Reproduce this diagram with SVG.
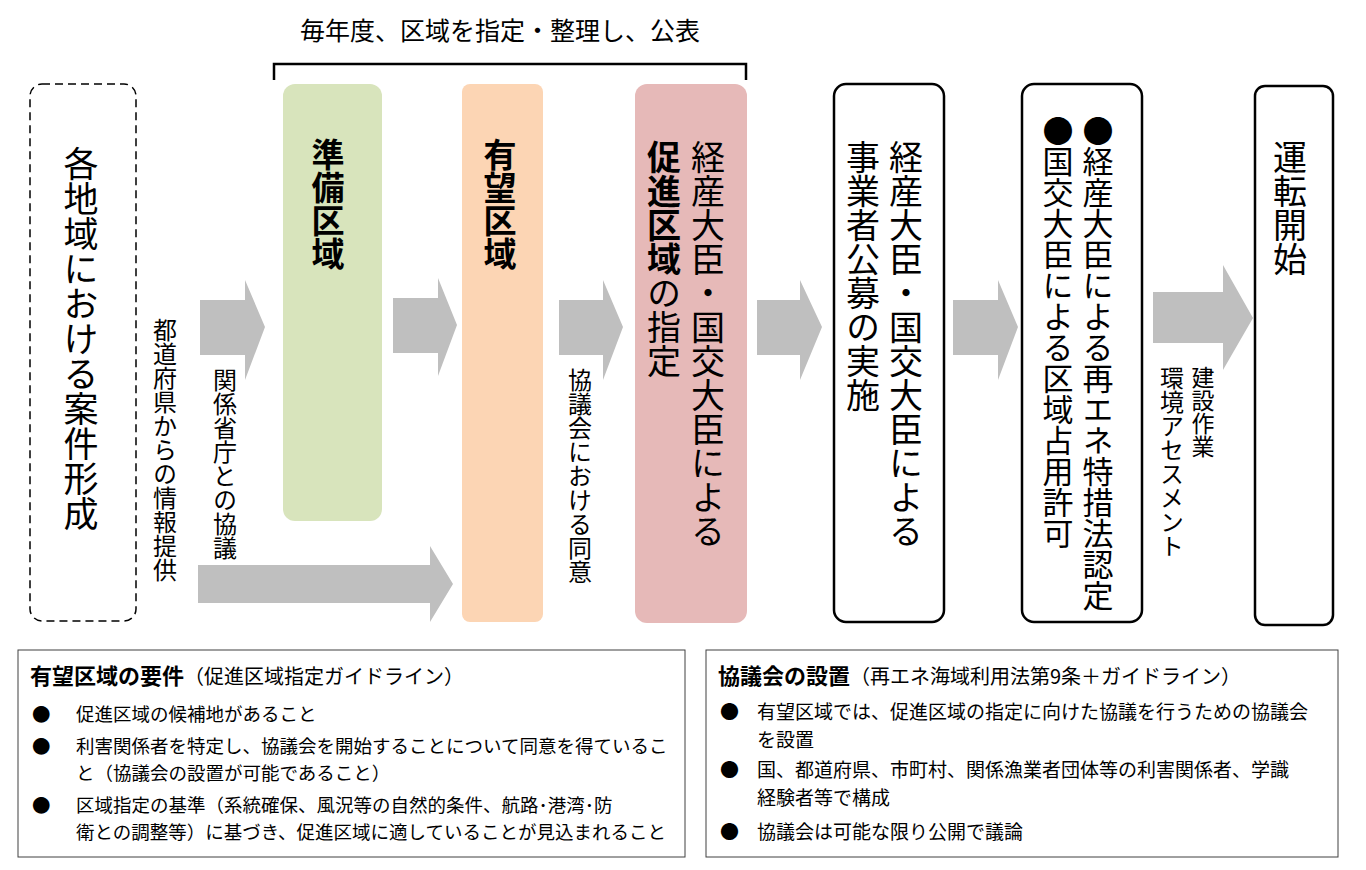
<svg xmlns="http://www.w3.org/2000/svg" width="1366" height="870" viewBox="0 0 1366 870">
<style>
text{font-family:"Noto Sans CJK JP","Liberation Sans",sans-serif;fill:#000}
.v{writing-mode:vertical-rl}
.b{font-weight:bold}
.arr{fill:#bfbfbf}
.box{fill:#fff;stroke:#000;stroke-width:2.5}
.pan{fill:#fff;stroke:#404040;stroke-width:1}
</style>
<rect width="1366" height="870" fill="#fff"/>
<g id="connectors">
<polygon class="arr" points="200,300 245,300 245,280 265,327 245,380 245,355 200,355"/>
<polygon class="arr" points="393,298 438,298 438,278 457,325 438,376 438,353 393,353"/>
<polygon class="arr" points="198,565 430,565 430,546 453,584 430,622 430,603 198,603"/>
<polygon class="arr" points="559,300 603,300 603,280 623,327 603,380 603,355 559,355"/>
<polygon class="arr" points="757,300 800,300 800,280 822,327 800,380 800,355 757,355"/>
<polygon class="arr" points="953,300 998,300 998,280 1018,327 998,380 998,355 953,355"/>
<polygon class="arr" points="1153,292 1223,292 1223,265 1253,318 1223,370 1223,343 1153,343"/>
<path d="M274,80 V64 H746 V80" fill="none" stroke="#000" stroke-width="2.5"/>
<text x="500" y="40" font-size="25" text-anchor="middle">毎年度、区域を指定・整理し、公表</text>
<text class="v" x="165" y="318" font-size="24">都道府県からの情報提供</text>
<text class="v" x="225" y="368" font-size="24">関係省庁との協議</text>
<text class="v" x="580" y="368" font-size="24">協議会における同意</text>
<text class="v" x="1203" y="366" font-size="23">建設作業</text>
<text class="v" x="1172" y="366" font-size="24">環境アセスメント</text>
</g>
<g id="n1">
<rect x="30" y="84" width="106" height="537" rx="12" fill="#fff" stroke="#000" stroke-width="1.5" stroke-dasharray="8,5"/>
<text class="v" x="81" y="146" font-size="35">各地域における案件形成</text>
</g>
<g id="n2">
<rect x="283" y="84" width="99" height="437" rx="12" fill="#d8e4bc"/>
<text class="v b" x="328" y="138" font-size="33">準備区域</text>
</g>
<g id="n3">
<rect x="462" y="84" width="81" height="538" rx="8" fill="#fcd5b4"/>
<text class="v b" x="500" y="138" font-size="33">有望区域</text>
</g>
<g id="n4">
<rect x="635" y="84" width="112" height="539" rx="12" fill="#e6b9b8"/>
<text class="v" x="708" y="140" font-size="34">経産大臣・国交大臣による</text>
<text class="v" x="664" y="140" font-size="34"><tspan class="b">促進区域</tspan>の指定</text>
</g>
<g id="n5">
<rect class="box" x="834" y="84" width="110" height="538" rx="12"/>
<text class="v" x="906" y="140" font-size="34">経産大臣・国交大臣による</text>
<text class="v" x="863" y="140" font-size="34">事業者公募の実施</text>
</g>
<g id="n6">
<rect class="box" x="1022" y="84" width="120" height="538" rx="12"/>
<text class="v" x="1098" y="115" font-size="31">●経産大臣による再エネ特措法認定</text>
<text class="v" x="1058" y="115" font-size="31">●国交大臣による区域占用許可</text>
</g>
<g id="n7">
<rect class="box" x="1255" y="86" width="78" height="539" rx="10"/>
<text class="v" x="1290" y="140" font-size="34">運転開始</text>
</g>
<g id="p1">
<rect class="pan" x="18" y="650" width="667" height="207"/>
<text x="30" y="684" font-size="22"><tspan class="b">有望区域の要件</tspan><tspan font-size="20">（促進区域指定ガイドライン）</tspan></text>
<g font-size="18.5">
<text x="32" y="721">●</text><text x="76" y="721">促進区域の候補地があること</text>
<text x="32" y="753">●</text><text x="76" y="753">利害関係者を特定し、協議会を開始することについて同意を得ているこ</text>
<text x="76" y="780">と（協議会の設置が可能であること）</text>
<text x="32" y="812">●</text><text x="76" y="812">区域指定の基準（系統確保、風況等の自然的条件、航路･港湾･防</text>
<text x="76" y="839">衛との調整等）に基づき、促進区域に適していることが見込まれること</text>
</g>
</g>
<g id="p2">
<rect class="pan" x="706" y="650" width="632" height="207"/>
<text x="718" y="684" font-size="22"><tspan class="b">協議会の設置</tspan><tspan font-size="20">（再エネ海域利用法第9条＋ガイドライン）</tspan></text>
<g font-size="19">
<text x="720" y="719">●</text><text x="757" y="719">有望区域では、促進区域の指定に向けた協議を行うための協議会</text>
<text x="757" y="747">を設置</text>
<text x="720" y="777">●</text><text x="757" y="777">国、都道府県、市町村、関係漁業者団体等の利害関係者、学識</text>
<text x="757" y="805">経験者等で構成</text>
<text x="720" y="839">●</text><text x="757" y="839">協議会は可能な限り公開で議論</text>
</g>
</g>
</svg>
